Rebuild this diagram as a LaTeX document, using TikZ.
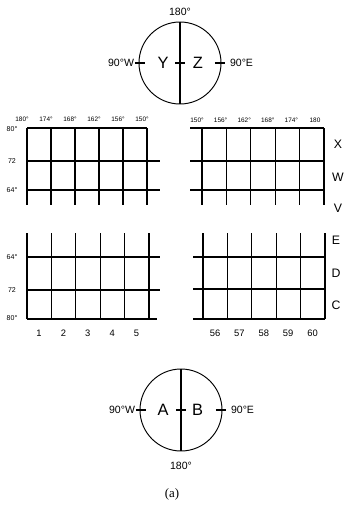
\documentclass[tikz,border=0pt]{standalone}
\usepackage{fontspec}
\usepackage{tikz}
\usetikzlibrary{positioning}
\newfontfamily\lblfont{Liberation Sans}
\newfontfamily\capfont{Liberation Serif}

\begin{document}
\begin{tikzpicture}[x=0.3mm,y=-0.3mm,
  gridline/.style={line width=1.1pt},
  globe/.style={circle,draw,line width=0.8pt,minimum size=24.6mm,inner sep=0pt},
  axisline/.style={line width=0.9pt},
  pole/.style={inner sep=0pt,font=\lblfont\fontsize{9}{10}\selectfont},
  half/.style={inner sep=0pt,font=\lblfont\fontsize{14}{16}\selectfont},
  band/.style={inner sep=0pt,font=\lblfont\fontsize{10.5}{12}\selectfont},
  zone/.style={inner sep=0pt,font=\lblfont\fontsize{8}{9}\selectfont},
  lonlabel/.style={inner sep=0pt,font=\lblfont\fontsize{5.5}{6}\selectfont},
  latlabel/.style={inner sep=0pt,font=\lblfont\fontsize{6}{7}\selectfont}]
  \useasboundingbox (0,0) rectangle (345,517);

  % north globe
  \node[globe] (ns) at (180,63) {};
  \draw[axisline] (ns.north) -- (ns.south);
  \draw[axisline] ([xshift=-1mm]ns.west) -- ([xshift=2mm]ns.west);
  \draw[axisline] ([xshift=-2mm]ns.east) -- ([xshift=1mm]ns.east);
  \draw[axisline] ([xshift=-1.5mm]ns.center) -- ([xshift=1.5mm]ns.center);
  \node[pole,above=1.8mm of ns] (nstop) {180°};
  \node[pole,left=1.3mm of ns] (nswest) {90°W};
  \node[pole,right=2.5mm of ns] (nseast) {90°E};
  \node[half] (y) at ([xshift=-5.1mm]ns.center) {Y};
  \node[half] (z) at ([xshift=5.4mm]ns.center) {Z};

  % northern grids
  \foreach \i in {0,...,5} \draw[gridline] ({27+24*\i},128) -- ({27+24*\i},205);
  \draw[gridline] (27,128) -- (147,128);
  \foreach \y in {161,190} \draw[gridline] (27,\y) -- (160,\y);
  \foreach \i in {0,...,5} \draw[gridline] ({202+24.4*\i},128) -- ({202+24.4*\i},205);
  \foreach \y in {128,161,190} \draw[gridline] (190,\y) -- (324,\y);
  \foreach \lon [count=\i from 0] in {180°,174°,168°,162°,156°,150°}
    \node[lonlabel] (nw\i) at ({22+24*\i},119) {\lon};
  \foreach \lon [count=\i from 0] in {150°,156°,162°,168°,174°,180}
    \node[lonlabel] (ne\i) at ({197+23.6*\i},120) {\lon};
  \foreach \lat/\y [count=\i] in {80°/129,72/161,64°/190}
    \node[latlabel] (nl\i) at (12,\y) {\lat};
  \foreach \b/\y in {X/144,W/177,V/208}
    \node[band] (band\b) at (338,\y) {\b};

  % southern grids
  \foreach \i in {0,...,5} \draw[gridline] ({27+24.4*\i},233) -- ({27+24.4*\i},319);
  \foreach \y in {257,290} \draw[gridline] (27,\y) -- (160,\y);
  \draw[gridline] (27,319) -- (157,319);
  \foreach \i in {0,...,5} \draw[gridline] ({203+24.4*\i},233) -- ({203+24.4*\i},319);
  \foreach \y in {257,289,319} \draw[gridline] (193,\y) -- (325,\y);
  \foreach \lat/\y [count=\i] in {64°/257,72/290,80°/318}
    \node[latlabel] (sl\i) at (12,\y) {\lat};
  \foreach \b/\y in {E/240,D/273,C/305}
    \node[band] (band\b) at (336,\y) {\b};
  \foreach \n [count=\i from 0] in {1,...,5}
    \node[zone] (zw\n) at ({39+24.4*\i},333) {\n};
  \foreach \n [count=\i from 0] in {56,...,60}
    \node[zone] (ze\n) at ({215+24.4*\i},333) {\n};

  % south globe
  \node[globe] (ss) at (181,410) {};
  \draw[axisline] (ss.north) -- (ss.south);
  \draw[axisline] ([xshift=-1mm]ss.west) -- ([xshift=2mm]ss.west);
  \draw[axisline] ([xshift=-2mm]ss.east) -- ([xshift=1mm]ss.east);
  \draw[axisline] ([xshift=-1.5mm]ss.center) -- ([xshift=1.5mm]ss.center);
  \node[pole,below=3.2mm of ss] (ssbot) {180°};
  \node[pole,left=1.3mm of ss] (sswest) {90°W};
  \node[pole,right=2.5mm of ss] (sseast) {90°E};
  \node[half] (a) at ([xshift=-5.4mm]ss.center) {A};
  \node[half] (b) at ([xshift=5mm]ss.center) {B};

  \node[inner sep=0pt,font=\capfont\fontsize{11}{13}\selectfont] (caption) at (172,494) {(a)};
\end{tikzpicture}
\end{document}
